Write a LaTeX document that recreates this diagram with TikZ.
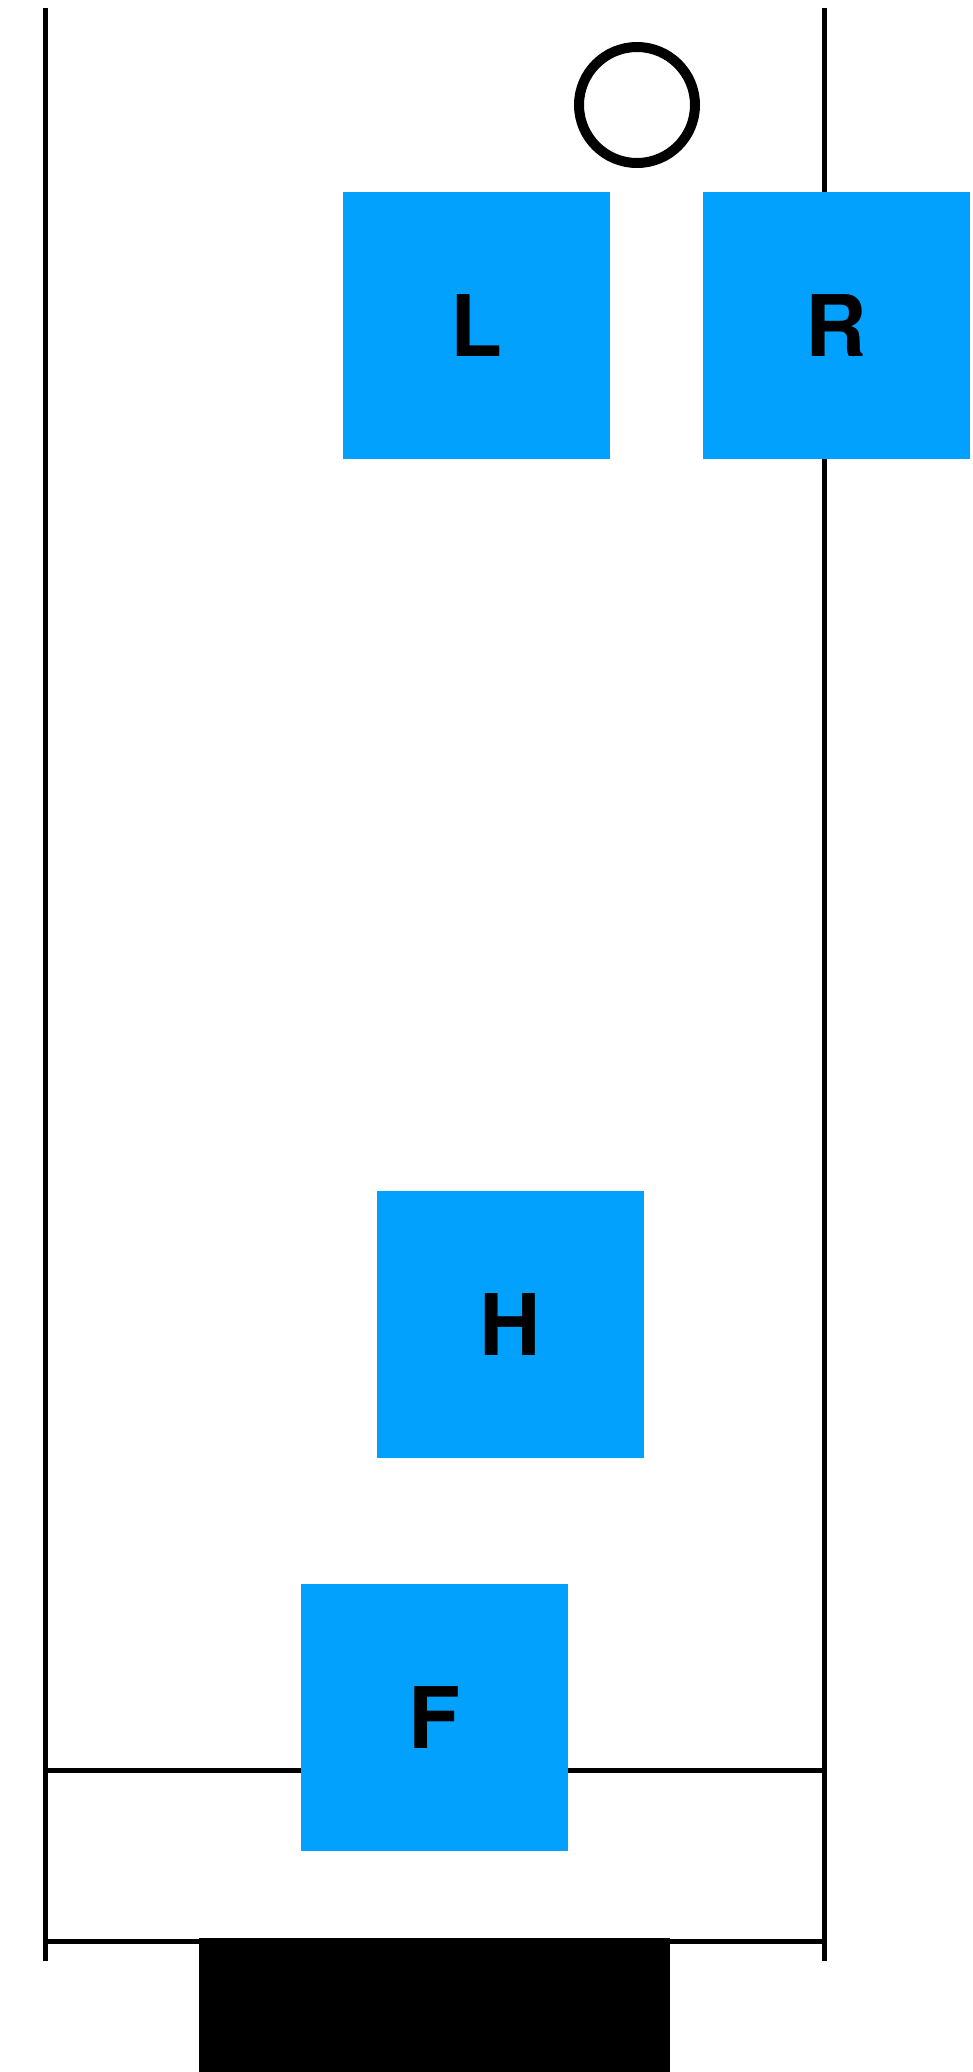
\documentclass[tikz,border=0pt]{standalone}
\usepackage{fontspec}
\setmainfont{TeX Gyre Heros}
\usepackage{tikz}
\usetikzlibrary{positioning, calc}
\definecolor{boxblue}{RGB}{2, 161, 254}
\tikzstyle{block} = [rectangle, fill=boxblue, minimum size=267pt, inner sep=0pt, font=\fontsize{85}{85}\selectfont\bfseries]
\tikzstyle{wall} = [line width=5pt]

\begin{document}
\begin{tikzpicture}[x=1pt, y=-1pt]
    \useasboundingbox (0,0) rectangle (973,2072);

    % Walls
    \draw[wall] (45,8) -- (45,1961);
    \draw[wall] (824,8) -- (824,1961);

    % Floors
    \draw[wall] (45,1770) -- (824,1770);
    \draw[wall] (45,1941) -- (824,1941);

    % Base
    \fill[black] (199,1938) rectangle (670,2072);

    % Ball
    \node[draw, circle, line width=10pt, minimum size=116pt, inner sep=0pt] (ball) at (637,105) {};

    % Blocks
    \node[block] (l) at (476,325.5) {L};
    \node[block] (r) at (836,325.5) {R};
    \node[block] (h) at (510.5,1324.5) {H};
    \node[block] (f) at (434,1717) {F};
\end{tikzpicture}
\end{document}
